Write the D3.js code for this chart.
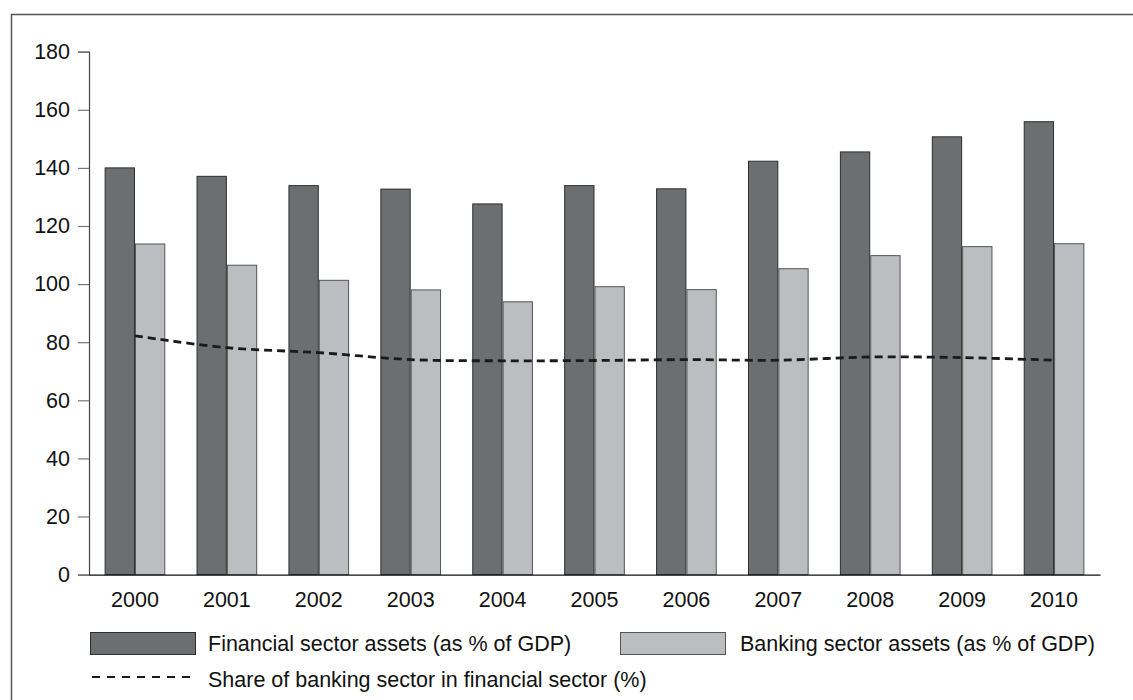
<!DOCTYPE html>
<html>
<head>
<meta charset="utf-8">
<script src="https://cdn.jsdelivr.net/npm/d3@7"></script>
<style>
  body { margin: 0; background: #fff; }
  text { font-family: Arial, "Liberation Sans", sans-serif; fill: #111; }
</style>
</head>
<body>
<div id="chart"></div>
<script>
// data
const years = ["2000", "2001", "2002", "2003", "2004", "2005", "2006", "2007", "2008", "2009", "2010"];
const financialAssets = [140.0, 137.1, 133.9, 132.7, 127.6, 133.9, 132.8, 142.3, 145.5, 150.7, 155.9];
const bankingAssets = [113.8, 106.5, 101.3, 98.0, 93.9, 99.1, 98.1, 105.3, 109.8, 112.9, 113.9];
const bankingShare = [82.2, 78.1, 76.4, 74.0, 73.6, 73.7, 74.0, 73.8, 74.9, 74.7, 73.8];
const yTicks = [0, 20, 40, 60, 80, 100, 120, 140, 160, 180];

const seriesNames = ["Financial sector assets (as % of GDP)", "Banking sector assets (as % of GDP)"];
const lineName = "Share of banking sector in financial sector (%)";

const width = 1133,
  height = 700;
const fontSize = 21.5;

const svg = d3
  .select("#chart")
  .append("svg")
  .attr("width", width)
  .attr("height", height);

// frame (only top and left edges are in view)
svg.append("path")
  .attr("d", "M11.5,700 L11.5,14.5 L1133,14.5")
  .attr("fill", "none")
  .attr("stroke", "#555")
  .attr("stroke-width", 1.5);

const x0 = d3.scaleBand().domain(years).range([89, 1100]).paddingInner(0.34).paddingOuter(0.17);
const x1 = d3.scaleBand().domain([0, 1]).range([0, x0.bandwidth()]);
const y = d3.scaleLinear().domain([0, 180]).range([574.6, 51.7]);

const fills = ["#6d6e70", "#bcbdc0"];
const strokes = ["#2e2e2e", "#555"];

// bars
const groups = svg
  .selectAll(".year")
  .data(years)
  .enter()
  .append("g")
  .attr("class", "year")
  .attr("transform", (d) => `translate(${x0(d)},0)`);

groups
  .selectAll("rect")
  .data((d, i) => [financialAssets[i], bankingAssets[i]])
  .enter()
  .append("rect")
  .attr("x", (d, j) => x1(j) + 0.5)
  .attr("y", (d) => y(d))
  .attr("width", x1.bandwidth() - 1)
  .attr("height", (d) => y(0) - y(d))
  .attr("fill", (d, j) => fills[j])
  .attr("stroke", (d, j) => strokes[j])
  .attr("stroke-width", 1);

// y axis
const yAxis = svg
  .append("g")
  .attr("transform", "translate(89,0)")
  .call(d3.axisLeft(y).tickValues(yTicks).tickSize(11).tickPadding(8));
yAxis.select(".domain").attr("stroke", "#444").attr("stroke-width", 1.2);
yAxis.selectAll(".tick line").attr("stroke", "#777").attr("stroke-width", 1.2);
yAxis.selectAll(".tick text").attr("font-size", fontSize).attr("fill", "#111");

// x axis
const xAxis = svg
  .append("g")
  .attr("transform", `translate(0,${y(0)})`)
  .call(d3.axisBottom(x0).tickSize(0).tickPadding(17).tickSizeOuter(0));
xAxis.select(".domain").attr("stroke", "#111").attr("stroke-width", 1.3);
xAxis.selectAll(".tick text").attr("font-size", fontSize).attr("fill", "#111");

// share line
const line = d3
  .line()
  .x((d, i) => x0(years[i]) + x0.bandwidth() / 2)
  .y((d) => y(d))
  .curve(d3.curveCatmullRom);

svg.append("path")
  .datum(bankingShare)
  .attr("d", line)
  .attr("fill", "none")
  .attr("stroke", "#1a1a1a")
  .attr("stroke-width", 2.8)
  .attr("stroke-dasharray", "8,5");

// legend
const legend = svg.append("g").attr("class", "legend");
const swatchX = [90, 620];
const textX = [208, 740];
seriesNames.forEach((name, i) => {
  legend.append("rect")
    .attr("x", swatchX[i] + 0.5)
    .attr("y", 632.5)
    .attr("width", 105)
    .attr("height", 22)
    .attr("fill", fills[i])
    .attr("stroke", strokes[i])
    .attr("stroke-width", 1);
  legend.append("text")
    .attr("x", textX[i])
    .attr("y", 651)
    .attr("font-size", fontSize)
    .text(name);
});

legend.append("line")
  .attr("x1", 92)
  .attr("x2", 197)
  .attr("y1", 677)
  .attr("y2", 677)
  .attr("stroke", "#1a1a1a")
  .attr("stroke-width", 2)
  .attr("stroke-dasharray", "8,7");
legend.append("text")
  .attr("x", 208)
  .attr("y", 687)
  .attr("font-size", fontSize)
  .text(lineName);
</script>
</body>
</html>
